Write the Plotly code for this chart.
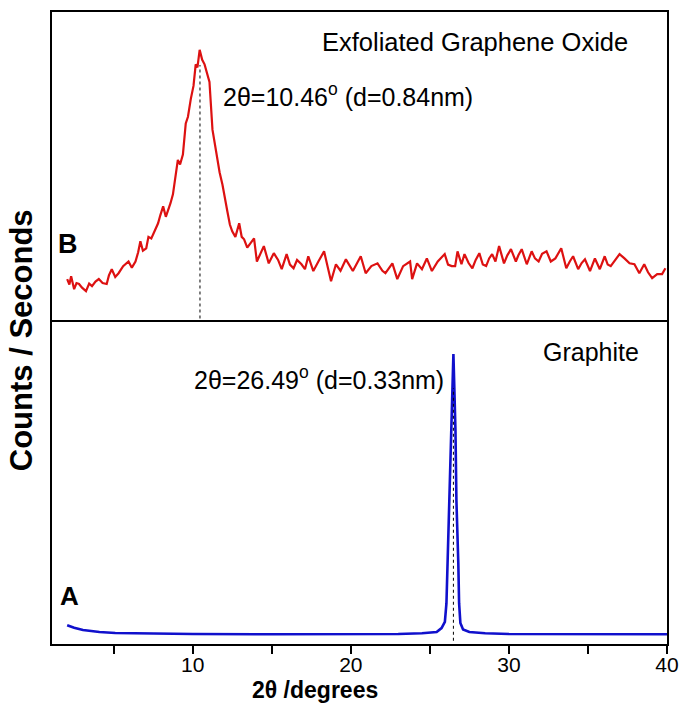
import plotly.graph_objects as go

# ---- data ----
# B: Exfoliated Graphene Oxide (arbitrary counts, panel scale 0-100)
go_x = [2.06, 2.20, 2.31, 2.50, 2.65, 2.81, 3.00, 3.25, 3.45, 3.63, 3.85, 4.06, 4.30, 4.56, 4.70,
        4.88, 5.10, 5.31, 5.60, 5.94, 6.15, 6.38, 6.55, 6.69, 6.85, 7.06, 7.20, 7.38, 7.60,
        7.81, 7.95, 8.13, 8.30, 8.44, 8.60, 8.75, 8.90, 9.06, 9.20, 9.38, 9.56, 9.70, 9.88, 10.05,
        10.19, 10.30, 10.44, 10.60, 10.75, 10.90, 11.06, 11.25, 11.40, 11.56, 11.70,
        11.88, 12.05, 12.19, 12.35, 12.50, 12.70, 12.94, 13.10, 13.25, 13.45, 13.63, 13.88, 14.06,
        14.30, 14.50, 14.81, 15.13, 15.40, 15.63, 15.94,
        16.15, 16.38, 16.60, 16.88, 17.10, 17.31, 17.63, 17.95, 18.31, 18.55, 18.75, 19.06, 19.35,
        19.69, 20.13, 20.40, 20.63, 20.94, 21.30, 21.69, 22.00, 22.19,
        22.63, 22.94, 23.31, 23.75, 23.88, 24.19, 24.50, 24.81, 25.13, 25.50, 25.94, 26.15, 26.38,
        26.60, 26.75, 27.00, 27.19, 27.45, 27.69, 27.90, 28.13, 28.35, 28.56, 28.75, 28.94, 29.15,
        29.38, 29.69, 29.90, 30.13, 30.44, 30.60, 30.81, 31.13, 31.44,
        31.65, 31.88, 32.10, 32.38, 32.65, 32.94, 33.31, 33.63, 33.85, 34.06, 34.38, 34.60, 34.81,
        35.13, 35.44, 35.75, 36.06, 36.25, 36.44, 36.70,
        37.00, 37.31, 37.63, 37.94, 38.25, 38.56, 38.80, 39.06, 39.38, 39.69, 39.90]
go_y = [13.3, 11.5, 14.2, 10.0, 12.0, 11.7, 10.5, 9.4, 11.8, 11.0, 12.5, 13.3, 12.0, 11.7, 14.5,
        16.5, 14.0, 15.2, 17.5, 19.0, 17.0, 19.0, 22.0, 25.6, 22.5, 23.3, 27.0, 26.5, 29.0,
        31.4, 34.0, 36.9, 33.5, 35.3, 38.0, 40.8, 47.0, 52.0, 50.5, 53.7, 63.8, 66.0, 71.8, 76.0,
        83.0, 82.0, 87.7, 84.5, 83.0, 80.0, 77.3, 61.8, 57.0, 52.4, 48.0,
        44.0, 38.5, 35.3, 31.0, 28.8, 27.0, 31.4, 27.0, 26.2, 23.5, 24.6, 26.5, 19.0,
        22.0, 24.0, 18.4, 21.7, 19.5, 16.5, 21.4,
        18.0, 16.8, 19.5, 18.1, 16.5, 20.7, 15.9, 19.0, 22.3, 17.0, 12.6, 18.1, 16.0,
        19.7, 15.9, 18.5, 20.7, 15.2, 17.5, 18.4, 16.0, 15.2,
        18.4, 13.3, 17.5, 19.0, 13.3, 18.4, 16.5, 20.0, 15.9, 19.0, 21.4, 18.0, 17.5,
        17.5, 22.3, 18.1, 21.4, 18.5, 16.8, 19.5, 21.7, 18.0, 17.5, 20.0, 21.4, 19.0,
        24.0, 18.4, 21.0, 23.0, 19.0, 21.0, 23.0, 18.1, 22.3,
        20.0, 19.0, 21.5, 22.3, 19.0, 20.0, 23.3, 16.8, 19.0, 20.7, 16.5, 18.5, 19.7,
        15.9, 20.0, 16.5, 20.7, 18.0, 17.5, 19.5,
        21.4, 20.0, 18.4, 18.1, 15.2, 18.1, 15.5, 13.6, 14.9, 14.9, 16.8]

# A: Graphite
gr_x = [2.06, 2.50, 3.06, 4.10, 5.10, 7.0, 10.0, 15.0, 20.0, 23.0, 24.5, 24.8, 25.43, 25.74,
        25.95, 26.05, 26.12, 26.26, 26.38, 26.49, 26.62, 26.68, 26.80, 26.85, 26.93, 27.10,
        27.50, 28.50, 30.0, 35.0, 40.0]
gr_y = [5.8, 5.0, 4.3, 3.7, 3.4, 3.2, 3.1, 3.0, 3.0, 3.1, 3.3, 3.4, 3.7, 4.9,
        6.8, 12.6, 24.9, 44.9, 65.8, 89.5, 65.8, 44.3, 24.9, 12.6, 6.5, 4.5,
        3.7, 3.3, 3.1, 3.0, 3.0]

peak_B = 10.46
peak_A = 26.49
x_ticks = [5, 10, 15, 20, 25, 30, 35, 40]
x_tick_text = ["", "10", "", "20", "", "30", "", "40"]

FONT = "Liberation Sans, Arial, sans-serif"

fig = go.Figure()
fig.add_trace(go.Scatter(x=gr_x, y=gr_y, mode="lines", xaxis="x", yaxis="y",
                         line=dict(color="#1010CC", width=2.6), showlegend=False))
fig.add_trace(go.Scatter(x=go_x, y=go_y, mode="lines", xaxis="x2", yaxis="y2",
                         line=dict(color="#DD1111", width=2.2), showlegend=False))
# dotted peak markers
fig.add_trace(go.Scatter(x=[peak_A, peak_A], y=[1, 79], mode="lines", xaxis="x", yaxis="y",
                         line=dict(color="black", width=1, dash="dot"), showlegend=False))
fig.add_trace(go.Scatter(x=[peak_B, peak_B], y=[0.5, 82.8], mode="lines", xaxis="x2", yaxis="y2",
                         line=dict(color="black", width=1, dash="dot"), showlegend=False))

L, R, T, B = 52, 17, 10, 69
W, H = 689, 713
PW, PH = W - L - R, H - T - B
split = (644 - 319) / float(PH)
xr = [1.1, 40]

fig.update_layout(
    width=W, height=H,
    margin=dict(l=L, r=R, t=T, b=B),
    paper_bgcolor="white", plot_bgcolor="white",
    font=dict(family=FONT, color="black"),
    xaxis=dict(range=xr, domain=[0, 1], anchor="y", showline=True, mirror=False,
               linecolor="black", linewidth=2, showgrid=False, zeroline=False,
               tickmode="array", tickvals=x_ticks, ticktext=x_tick_text,
               ticks="outside", ticklen=8, tickwidth=1.5, tickcolor="black",
               ticklabelstandoff=-7,
               tickfont=dict(size=21, family=FONT)),
    yaxis=dict(range=[0, 100], domain=[0, split], anchor="x", showline=True, mirror=True,
               linecolor="black", linewidth=2, showgrid=False, zeroline=False,
               showticklabels=False, ticks=""),
    xaxis2=dict(range=xr, domain=[0, 1], anchor="y2", showline=True, mirror=True,
                linecolor="black", linewidth=2, showgrid=False, zeroline=False,
                showticklabels=False, ticks="", matches="x"),
    yaxis2=dict(range=[0, 100], domain=[split, 1], anchor="x2", showline=True, mirror=True,
                linecolor="black", linewidth=2, showgrid=False, zeroline=False,
                showticklabels=False, ticks=""),
)


def pxx(xp):
    return (xp - L) / float(PW)


def pxy(yp):
    return (H - B - yp) / float(PH)


fig.add_annotation(x=pxx(478), y=pxy(40), xref="paper", yref="paper",
                   text="Exfoliated Graphene Oxide",
                   showarrow=False, font=dict(size=25.5, family=FONT), xanchor="center", yanchor="middle")
fig.add_annotation(x=peak_B + 1.3, y=73, xref="x2", yref="y2",
                   text="2θ=10.46<sup>o</sup> (d=0.84nm)", showarrow=False,
                   font=dict(size=25, family=FONT), xanchor="left", yanchor="middle")
fig.add_annotation(x=2.1, y=24.6, xref="x2", yref="y2", text="<b>B</b>", showarrow=False,
                   font=dict(size=27, family=FONT), xanchor="center", yanchor="middle")
fig.add_annotation(x=peak_A - 0.5, y=82, xref="x", yref="y",
                   text="2θ=26.49<sup>o</sup> (d=0.33nm)", showarrow=False,
                   font=dict(size=25, family=FONT), xanchor="right", yanchor="middle")
fig.add_annotation(x=35.2, y=90, xref="x", yref="y", text="Graphite", showarrow=False,
                   font=dict(size=25, family=FONT), xanchor="center", yanchor="middle")
fig.add_annotation(x=2.23, y=14.8, xref="x", yref="y", text="<b>A</b>", showarrow=False,
                   font=dict(size=26, family=FONT), xanchor="center", yanchor="middle")
# axis titles
fig.add_annotation(x=pxx(317), y=pxy(690), xref="paper", yref="paper",
                   text="<b>2θ /degrees</b>", showarrow=False,
                   font=dict(size=23, family=FONT), xanchor="center", yanchor="middle")
fig.add_annotation(x=pxx(22), y=pxy(339), xref="paper", yref="paper",
                   text="<b>Counts / Seconds</b>", showarrow=False, textangle=-90,
                   font=dict(size=31, family=FONT), xanchor="center", yanchor="middle")

fig.write_html("out.html", config={"displayModeBar": False},
               post_script="document.body.style.margin='0';")
